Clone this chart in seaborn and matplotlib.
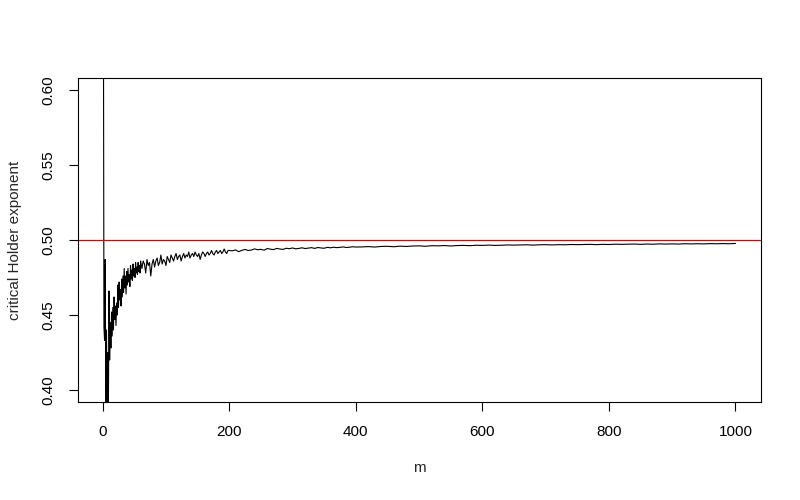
import numpy as np
import pandas as pd
import seaborn as sns
import matplotlib
matplotlib.use("Agg")
import matplotlib.pyplot as plt

# values
m_start = list(range(1, 61))
h_start = [0.700, 0.442, 0.433, 0.487, 0.385, 0.440, 0.380, 0.425, 0.385, 0.466,
           0.420, 0.445, 0.428, 0.452, 0.436, 0.455, 0.440, 0.462, 0.447, 0.456,
           0.443, 0.458, 0.450, 0.470, 0.455, 0.472, 0.460, 0.467, 0.456, 0.474,
           0.462, 0.476, 0.465, 0.481, 0.468, 0.476, 0.464, 0.479, 0.470, 0.481,
           0.472, 0.477, 0.469, 0.483, 0.474, 0.480, 0.473, 0.484, 0.476, 0.481,
           0.475, 0.485, 0.478, 0.482, 0.477, 0.485, 0.479, 0.483, 0.478, 0.486]

m_mid = list(range(62, 201, 2))
h_mid = [0.481, 0.486, 0.484, 0.478, 0.487, 0.483, 0.485, 0.476, 0.484, 0.487,
         0.482, 0.486, 0.488, 0.483, 0.485, 0.490, 0.484, 0.487, 0.486, 0.483,
         0.489, 0.487, 0.485, 0.490, 0.488, 0.486, 0.489, 0.491, 0.487, 0.489,
         0.490, 0.486, 0.489, 0.491, 0.488, 0.490, 0.489, 0.492, 0.488, 0.490,
         0.491, 0.489, 0.492, 0.490, 0.489, 0.491, 0.487, 0.490, 0.492, 0.491,
         0.489, 0.491, 0.492, 0.490, 0.491, 0.493, 0.491, 0.490, 0.492, 0.493,
         0.491, 0.492, 0.493, 0.491, 0.492, 0.494, 0.492, 0.491, 0.493, 0.493]

m_late = list(range(205, 401, 5))
h_late = [0.4928, 0.4934, 0.4922, 0.4931, 0.4937, 0.4930, 0.4933, 0.4941, 0.4935, 0.4938,
          0.4932, 0.4943, 0.4939, 0.4936, 0.4944, 0.4940, 0.4937, 0.4945, 0.4942, 0.4947,
          0.4941, 0.4944, 0.4948, 0.4943, 0.4946, 0.4949, 0.4944, 0.4950, 0.4947, 0.4945,
          0.4951, 0.4948, 0.4952, 0.4949, 0.4951, 0.4954, 0.4950, 0.4952, 0.4955, 0.4953]

m_tail = list(range(410, 1001, 10))
h_tail = [0.4954, 0.4956, 0.4953, 0.4957, 0.4958, 0.4955, 0.4959, 0.4957, 0.4960, 0.4961,
          0.4958, 0.4962, 0.4961, 0.4963, 0.4960, 0.4963, 0.4964, 0.4962, 0.4965, 0.4964,
          0.4966, 0.4964, 0.4965, 0.4967, 0.4966, 0.4967, 0.4968, 0.4966, 0.4968, 0.4969,
          0.4967, 0.4969, 0.4968, 0.4970, 0.4969, 0.4970, 0.4971, 0.4969, 0.4971, 0.4970,
          0.4972, 0.4971, 0.4972, 0.4973, 0.4971, 0.4973, 0.4972, 0.4974, 0.4973, 0.4974,
          0.4973, 0.4975, 0.4974, 0.4975, 0.4974, 0.4976, 0.4975, 0.4976, 0.4975, 0.4977]

x_ticks = [0, 200, 400, 600, 800, 1000]
y_ticks = [0.40, 0.45, 0.50, 0.55, 0.60]
ref_level = 0.5

df = pd.DataFrame({"m": m_start + m_mid + m_late + m_tail,
                   "h": h_start + h_mid + h_late + h_tail})

sns.set_style("ticks")
plt.rcParams['font.family'] = ['Liberation Sans', 'DejaVu Sans']

fig = plt.figure(figsize=(8, 5), dpi=100)
ax = fig.add_axes([0.0975, 0.196, 0.8535, 0.648])

# critical exponent curve + reference level
sns.lineplot(data=df, x="m", y="h", color="black", linewidth=0.8,
             estimator=None, sort=False, ax=ax)
ax.axhline(ref_level, color="#e00000", linewidth=0.9)

ax.set_xlim(-39, 1040)
ax.set_ylim(0.392, 0.608)
ax.set_xticks(x_ticks)
ax.set_yticks(y_ticks)
ax.set_yticklabels([f"{v:.2f}" for v in y_ticks], rotation=90, va="center")

for s in ax.spines.values():
    s.set_visible(True)
    s.set_linewidth(0.8)
    s.set_color("black")
ax.tick_params(direction="out", length=6.5, width=0.8, labelsize=11, pad=10, colors="black")

ax.set_xlabel("m", fontsize=11, labelpad=16)
ax.set_ylabel("critical Holder exponent", fontsize=11, labelpad=14)

fig.savefig("out.png", dpi=100)
